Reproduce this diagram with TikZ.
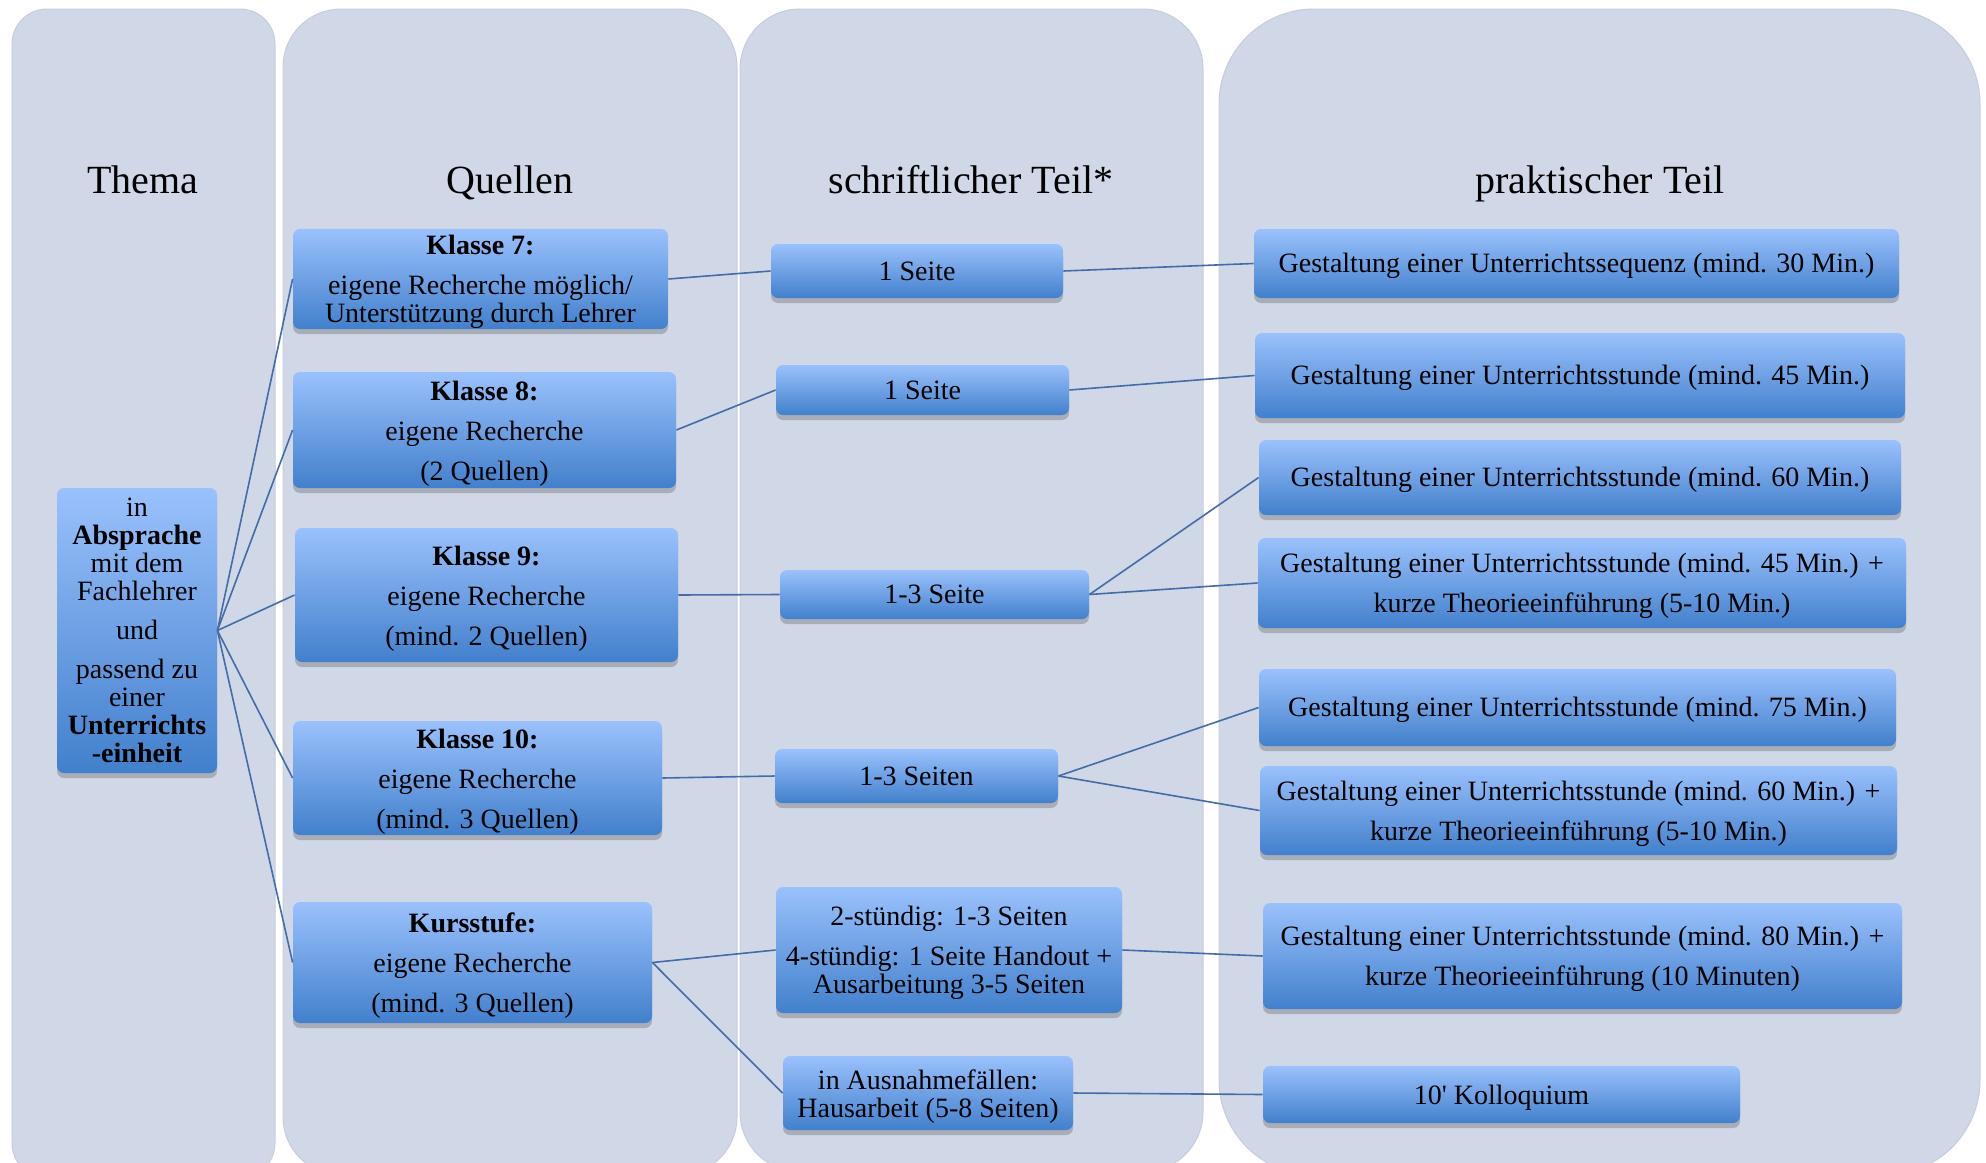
\documentclass[tikz,border=0pt]{standalone}
\usepackage{fontspec}
\setmainfont{Liberation Serif}
\usetikzlibrary{shadows}
\definecolor{panelcol}{RGB}{208,216,232}
\definecolor{paneledge}{RGB}{196,204,222}
\definecolor{boxtop}{RGB}{154,193,252}
\definecolor{boxmid}{RGB}{118,164,232}
\definecolor{boxbot}{RGB}{66,128,204}
\definecolor{linecol}{RGB}{68,108,166}
\newcommand{\tp}{\rule{0pt}{13pt}}
\newcommand{\tq}{\rule{0pt}{12.2pt}}
\begin{document}
\begin{tikzpicture}[x=0.5pt,y=-0.5pt,
  panel/.style={fill=panelcol, draw=paneledge, line width=0.5pt},
  hdr/.style={font=\fontsize{20}{24}\selectfont, text=black, inner sep=0pt, anchor=base},
  bx/.style={rectangle, rounded corners=3.5pt, top color=boxtop, middle color=boxmid, bottom color=boxbot,
    text=black, align=center, inner sep=0pt, font=\fontsize{14}{14}\selectfont,
    drop shadow={shadow xshift=0pt, shadow yshift=-2.5pt, opacity=0.3, fill=black!70}},
  sz/.style 2 args={minimum width=#1*0.5pt, minimum height=#2*0.5pt},
  link/.style={draw=linecol, line width=0.8pt}]
\useasboundingbox (0,0) rectangle (1986,1162);
\clip (0,0) rectangle (1986,1162);

% panels
\draw[panel, rounded corners=17.5pt] (12,9) rectangle (275,1178);
\draw[panel, rounded corners=29pt] (283,9) rectangle (737,1175);
\draw[panel, rounded corners=30pt] (740,9) rectangle (1203,1172);
\draw[panel, rounded corners=47.5pt] (1219,9) rectangle (1980,1175);

% headers
\node[hdr] (h1) at (143,193) {Thema};
\node[hdr] (h2) at (510,193) {Quellen};
\node[hdr] (h3) at (971,193) {schriftlicher Teil*};
\node[hdr] (h4) at (1600,193) {praktischer Teil};

% Thema box
\node[bx, sz={160}{285}] (th) at (137,630.5)
  {in\\ \textbf{Absprache}\\ mit dem\\ Fachlehrer\\[5.5pt] und\\[5.5pt] passend zu\\ einer\\ \textbf{Unterrichts}\\ \textbf{-einheit}};

% Quellen
\node[bx, sz={375}{100}] (k7) at (480.5,279)
  {\tp\textbf{Klasse 7:}\\[6pt] eigene Recherche möglich/\\ Unterstützung durch Lehrer};
\node[bx, sz={383}{116}] (k8) at (484.5,430)
  {\tp\textbf{Klasse 8:}\\[6pt] eigene Recherche\\[6pt] (2 Quellen)};
\node[bx, sz={383}{134}] (k9) at (486.5,595)
  {\tp\textbf{Klasse 9:}\\[6pt] eigene Recherche\\[6pt] (mind. 2 Quellen)};
\node[bx, sz={369}{114}] (k10) at (477.5,778)
  {\tp\textbf{Klasse 10:}\\[6pt] eigene Recherche\\[6pt] (mind. 3 Quellen)};
\node[bx, sz={359}{121}] (ks) at (472.5,962.5)
  {\tp\textbf{Kursstufe:}\\[6pt] eigene Recherche\\[6pt] (mind. 3 Quellen)};

% schriftlicher Teil
\node[bx, sz={292}{54}] (s1) at (917,271) {1 Seite};
\node[bx, sz={293}{50}] (s2) at (922.5,390) {1 Seite};
\node[bx, sz={309}{49}] (s3) at (934.5,594.5) {1-3 Seite};
\node[bx, sz={283}{54}] (s4) at (916.5,776) {1-3 Seiten};
\node[bx, sz={346}{126}] (s5) at (949,950)
  {\tp 2-stündig: 1-3 Seiten\\[6pt] 4-stündig: 1 Seite Handout +\\ Ausarbeitung 3-5 Seiten};
\node[bx, sz={290}{74}] (s6) at (928,1093)
  {\tp in Ausnahmefällen:\\ Hausarbeit (5-8 Seiten)};

% praktischer Teil
\node[bx, sz={645}{69}] (p1) at (1576.5,263.5) {\tq Gestaltung einer Unterrichtssequenz (mind. 30 Min.)};
\node[bx, sz={650}{85}] (p2) at (1580,375.5) {\tq Gestaltung einer Unterrichtsstunde (mind. 45 Min.)};
\node[bx, sz={642}{75}] (p3) at (1580,477.5) {\tq Gestaltung einer Unterrichtsstunde (mind. 60 Min.)};
\node[bx, sz={648}{90}] (p4) at (1582,583)
  {\tp Gestaltung einer Unterrichtsstunde (mind. 45 Min.) +\\[6pt] kurze Theorieeinführung (5-10 Min.)};
\node[bx, sz={637}{77}] (p5) at (1577.5,707.5) {\tq Gestaltung einer Unterrichtsstunde (mind. 75 Min.)};
\node[bx, sz={637}{89}] (p6) at (1578.5,810.5)
  {\tp Gestaltung einer Unterrichtsstunde (mind. 60 Min.) +\\[6pt] kurze Theorieeinführung (5-10 Min.)};
\node[bx, sz={639}{106}] (p7) at (1582.5,956)
  {\tp Gestaltung einer Unterrichtsstunde (mind. 80 Min.) +\\[6pt] kurze Theorieeinführung (10 Minuten)};
\node[bx, sz={477}{57}] (p8) at (1501.5,1094.5) {\tp 10\textquotesingle{} Kolloquium};

% connectors
\draw[link] (th.east) -- (k7.west);
\draw[link] (th.east) -- (k8.west);
\draw[link] (th.east) -- (k9.west);
\draw[link] (th.east) -- (k10.west);
\draw[link] (th.east) -- (ks.west);
\draw[link] (k7.east) -- (s1.west);
\draw[link] (k8.east) -- (s2.west);
\draw[link] (k9.east) -- (s3.west);
\draw[link] (k10.east) -- (s4.west);
\draw[link] (ks.east) -- (s5.west);
\draw[link] (ks.east) -- (s6.west);
\draw[link] (s1.east) -- (p1.west);
\draw[link] (s2.east) -- (p2.west);
\draw[link] (s3.east) -- (p3.west);
\draw[link] (s3.east) -- (p4.west);
\draw[link] (s4.east) -- (p5.west);
\draw[link] (s4.east) -- (p6.west);
\draw[link] (s5.east) -- (p7.west);
\draw[link] (s6.east) -- (p8.west);
\end{tikzpicture}
\end{document}
